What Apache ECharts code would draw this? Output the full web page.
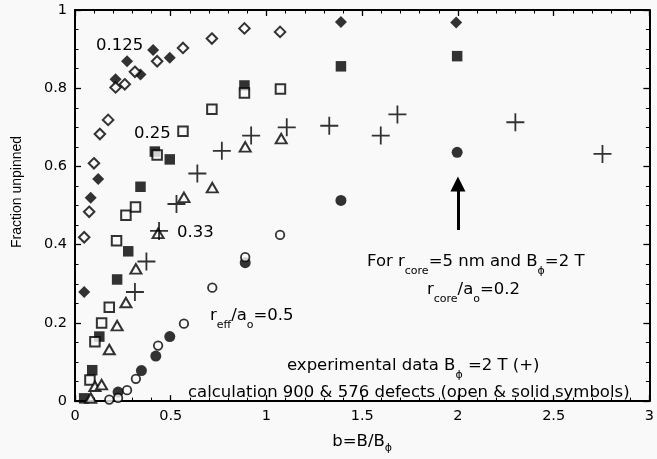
<!DOCTYPE html>
<html><head><meta charset="utf-8">
<script src="https://cdn.jsdelivr.net/npm/echarts@6/dist/echarts.min.js"></script>
<style>html,body{margin:0;padding:0;background:#f9f9f9}#c{width:657px;height:459px}</style>
</head><body><div id="c"></div>
<script>
const xTickLabels = ['0','0.5','1','1.5','2','2.5','3'];
const yTickLabels = ['0','0.2','0.4','0.6','0.8','1'];

const openDiamondX = [0.048,0.074,0.099,0.130,0.173,0.212,0.260,0.313,0.429,0.564,0.715,0.885,1.071];
const openDiamondY = [0.419,0.484,0.608,0.683,0.719,0.802,0.810,0.842,0.869,0.903,0.927,0.953,0.944];
const solidDiamondX = [0.048,0.082,0.121,0.212,0.272,0.342,0.408,0.495,1.389,1.991];
const solidDiamondY = [0.279,0.520,0.568,0.823,0.869,0.835,0.898,0.878,0.969,0.968];
const openSquareX = [0.078,0.104,0.139,0.179,0.217,0.266,0.316,0.429,0.564,0.715,0.885,1.073];
const openSquareY = [0.054,0.152,0.200,0.240,0.410,0.475,0.496,0.629,0.690,0.746,0.788,0.798];
const solidSquareX = [0.048,0.090,0.127,0.220,0.278,0.342,0.417,0.495,0.885,1.389,1.996];
const solidSquareY = [0.007,0.079,0.165,0.311,0.383,0.548,0.638,0.618,0.807,0.856,0.882];
const triangleX = [0.082,0.104,0.139,0.179,0.220,0.266,0.318,0.434,0.569,0.717,0.889,1.077];
const triangleY = [0.008,0.038,0.042,0.132,0.193,0.252,0.338,0.429,0.521,0.546,0.650,0.671];
const plusX = [0.313,0.373,0.439,0.530,0.639,0.767,0.920,1.106,1.328,1.597,1.684,2.300,2.755];
const plusY = [0.279,0.357,0.435,0.504,0.582,0.640,0.679,0.700,0.704,0.679,0.733,0.713,0.632];
const openCircleX = [0.179,0.225,0.272,0.318,0.434,0.569,0.717,0.889,1.071];
const openCircleY = [0.004,0.008,0.028,0.057,0.142,0.198,0.290,0.368,0.425];
const solidCircleX = [0.225,0.347,0.422,0.495,0.889,1.389,1.996];
const solidCircleY = [0.023,0.078,0.115,0.165,0.354,0.513,0.636];
const arrowFrom = [2, 0.4375];
const arrowTo = [2, 0.555];

const zip = (xs, ys) => xs.map((x, i) => [x, ys[i]]);
const INK = '#000';
const BG = '#f9f9f9';
const FONT = '"DejaVu Sans", sans-serif';
const PLUS = 'path://M-0.1,-1L0.1,-1L0.1,-0.1L1,-0.1L1,0.1L0.1,0.1L0.1,1L-0.1,1L-0.1,0.1L-1,0.1L-1,-0.1L-0.1,-0.1Z';

const axisBase = (extra) => Object.assign({
  type: 'value',
  axisLine: {show: true, onZero: false, lineStyle: {color: INK, width: 2}},
  axisTick: {show: true, inside: true, length: 6, lineStyle: {color: INK, width: 1.3}},
  splitLine: {show: false},
  minorSplitLine: {show: false}
}, extra);

const richStyles = {
  m: {font: '16.5px ' + FONT, fill: INK, lineHeight: 20},
  s: {font: '11px ' + FONT, fill: INK, lineHeight: 12, padding: [18, 0, 0, 0]}
};
const txt = (x, y, text) => ({
  type: 'text', x: x, y: y, z: 10, silent: true,
  style: {text: text, fill: INK, font: '16.5px ' + FONT, align: 'left', verticalAlign: 'middle', rich: richStyles}
});

const chart = echarts.init(document.getElementById('c'));
chart.setOption({
  backgroundColor: BG,
  animation: false,
  grid: {left: 75, right: 6, top: 10, bottom: 49},
  xAxis: [
    axisBase({
      min: 0, max: 3, interval: 0.5,
      minorTick: {show: true, splitNumber: 5, length: 3.5, lineStyle: {color: INK, width: 1}},
      axisLabel: {color: INK, fontFamily: FONT, fontSize: 14.5, margin: 8,
        formatter: v => xTickLabels[Math.round(v / 0.5)]},
      name: '{m|b=B/B}{s|ϕ}', nameLocation: 'middle', nameGap: 40,
      nameTextStyle: {verticalAlign: 'middle', rich: {
        m: {fontFamily: FONT, fontSize: 16.5, color: INK, lineHeight: 20},
        s: {fontFamily: FONT, fontSize: 11, color: INK, lineHeight: 12, padding: [14, 0, 0, 0]}
      }}
    }),
    axisBase({
      position: 'top', min: 0, max: 3, interval: 0.5,
      minorTick: {show: true, splitNumber: 5, length: 3.5, lineStyle: {color: INK, width: 1}},
      axisLabel: {show: false}
    })
  ],
  yAxis: [
    axisBase({
      min: 0, max: 1, interval: 0.2,
      minorTick: {show: true, splitNumber: 4, length: 3.5, lineStyle: {color: INK, width: 1}},
      axisLabel: {color: INK, fontFamily: FONT, fontSize: 14.5, margin: 8,
        formatter: v => yTickLabels[Math.round(v / 0.2)]}
    }),
    axisBase({
      position: 'right', min: 0, max: 1, interval: 0.2,
      minorTick: {show: true, splitNumber: 4, length: 3.5, lineStyle: {color: INK, width: 1}},
      axisLabel: {show: false}
    })
  ],
  series: [
    {type: 'scatter', name: 'solid diamonds', data: zip(solidDiamondX, solidDiamondY), symbol: 'diamond', symbolSize: 12,
     itemStyle: {color: INK}},
    {type: 'scatter', name: 'open diamonds', data: zip(openDiamondX, openDiamondY), symbol: 'diamond', symbolSize: 10.5,
     itemStyle: {color: BG, borderColor: INK, borderWidth: 2}},
    {type: 'scatter', name: 'solid squares', data: zip(solidSquareX, solidSquareY), symbol: 'rect', symbolSize: 10.5,
     itemStyle: {color: INK}},
    {type: 'scatter', name: 'open squares', data: zip(openSquareX, openSquareY), symbol: 'rect', symbolSize: 9.5,
     itemStyle: {color: BG, borderColor: INK, borderWidth: 2}},
    {type: 'scatter', name: 'open triangles', data: zip(triangleX, triangleY), symbol: 'triangle', symbolSize: [11, 9.5],
     itemStyle: {color: BG, borderColor: INK, borderWidth: 2}},
    {type: 'scatter', name: 'solid circles', data: zip(solidCircleX, solidCircleY), symbol: 'circle', symbolSize: 11,
     itemStyle: {color: INK},
     markLine: {silent: true, symbol: ['none', 'triangle'], symbolSize: 15,
       label: {show: false}, lineStyle: {color: INK, width: 3, type: 'solid', opacity: 1},
       emphasis: {disabled: true},
       data: [[{coord: arrowFrom}, {coord: arrowTo}]]}},
    {type: 'scatter', name: 'open circles', data: zip(openCircleX, openCircleY), symbol: 'circle', symbolSize: 8.5,
     itemStyle: {color: BG, borderColor: INK, borderWidth: 1.8}},
    {type: 'scatter', name: 'experimental', data: zip(plusX, plusY), symbol: PLUS, symbolSize: 18,
     itemStyle: {color: INK}}
  ],
  graphic: [
    {type: 'text', x: 17, y: 192, rotation: Math.PI / 2, silent: true,
     style: {text: 'Fraction unpinned', fill: INK, font: '14px "Liberation Sans", Arial, sans-serif', align: 'center', verticalAlign: 'middle'}},
    txt(96, 46, '{m|0.125}'),
    txt(134, 134, '{m|0.25}'),
    txt(177, 233, '{m|0.33}'),
    txt(210, 316, '{m|r}{s|eff}{m|/a}{s|o}{m|=0.5}'),
    txt(367, 262, '{m|For r}{s|core}{m|=5 nm and B}{s|ϕ}{m|=2 T}'),
    txt(427, 290, '{m|r}{s|core}{m|/a}{s|o}{m|=0.2}'),
    txt(287, 366, '{m|experimental data B}{s|ϕ}{m| =2 T (+)}'),
    txt(188, 393, '{m|calculation 900 & 576 defects (open & solid symbols)}')
  ]
});
</script>
</body></html>
